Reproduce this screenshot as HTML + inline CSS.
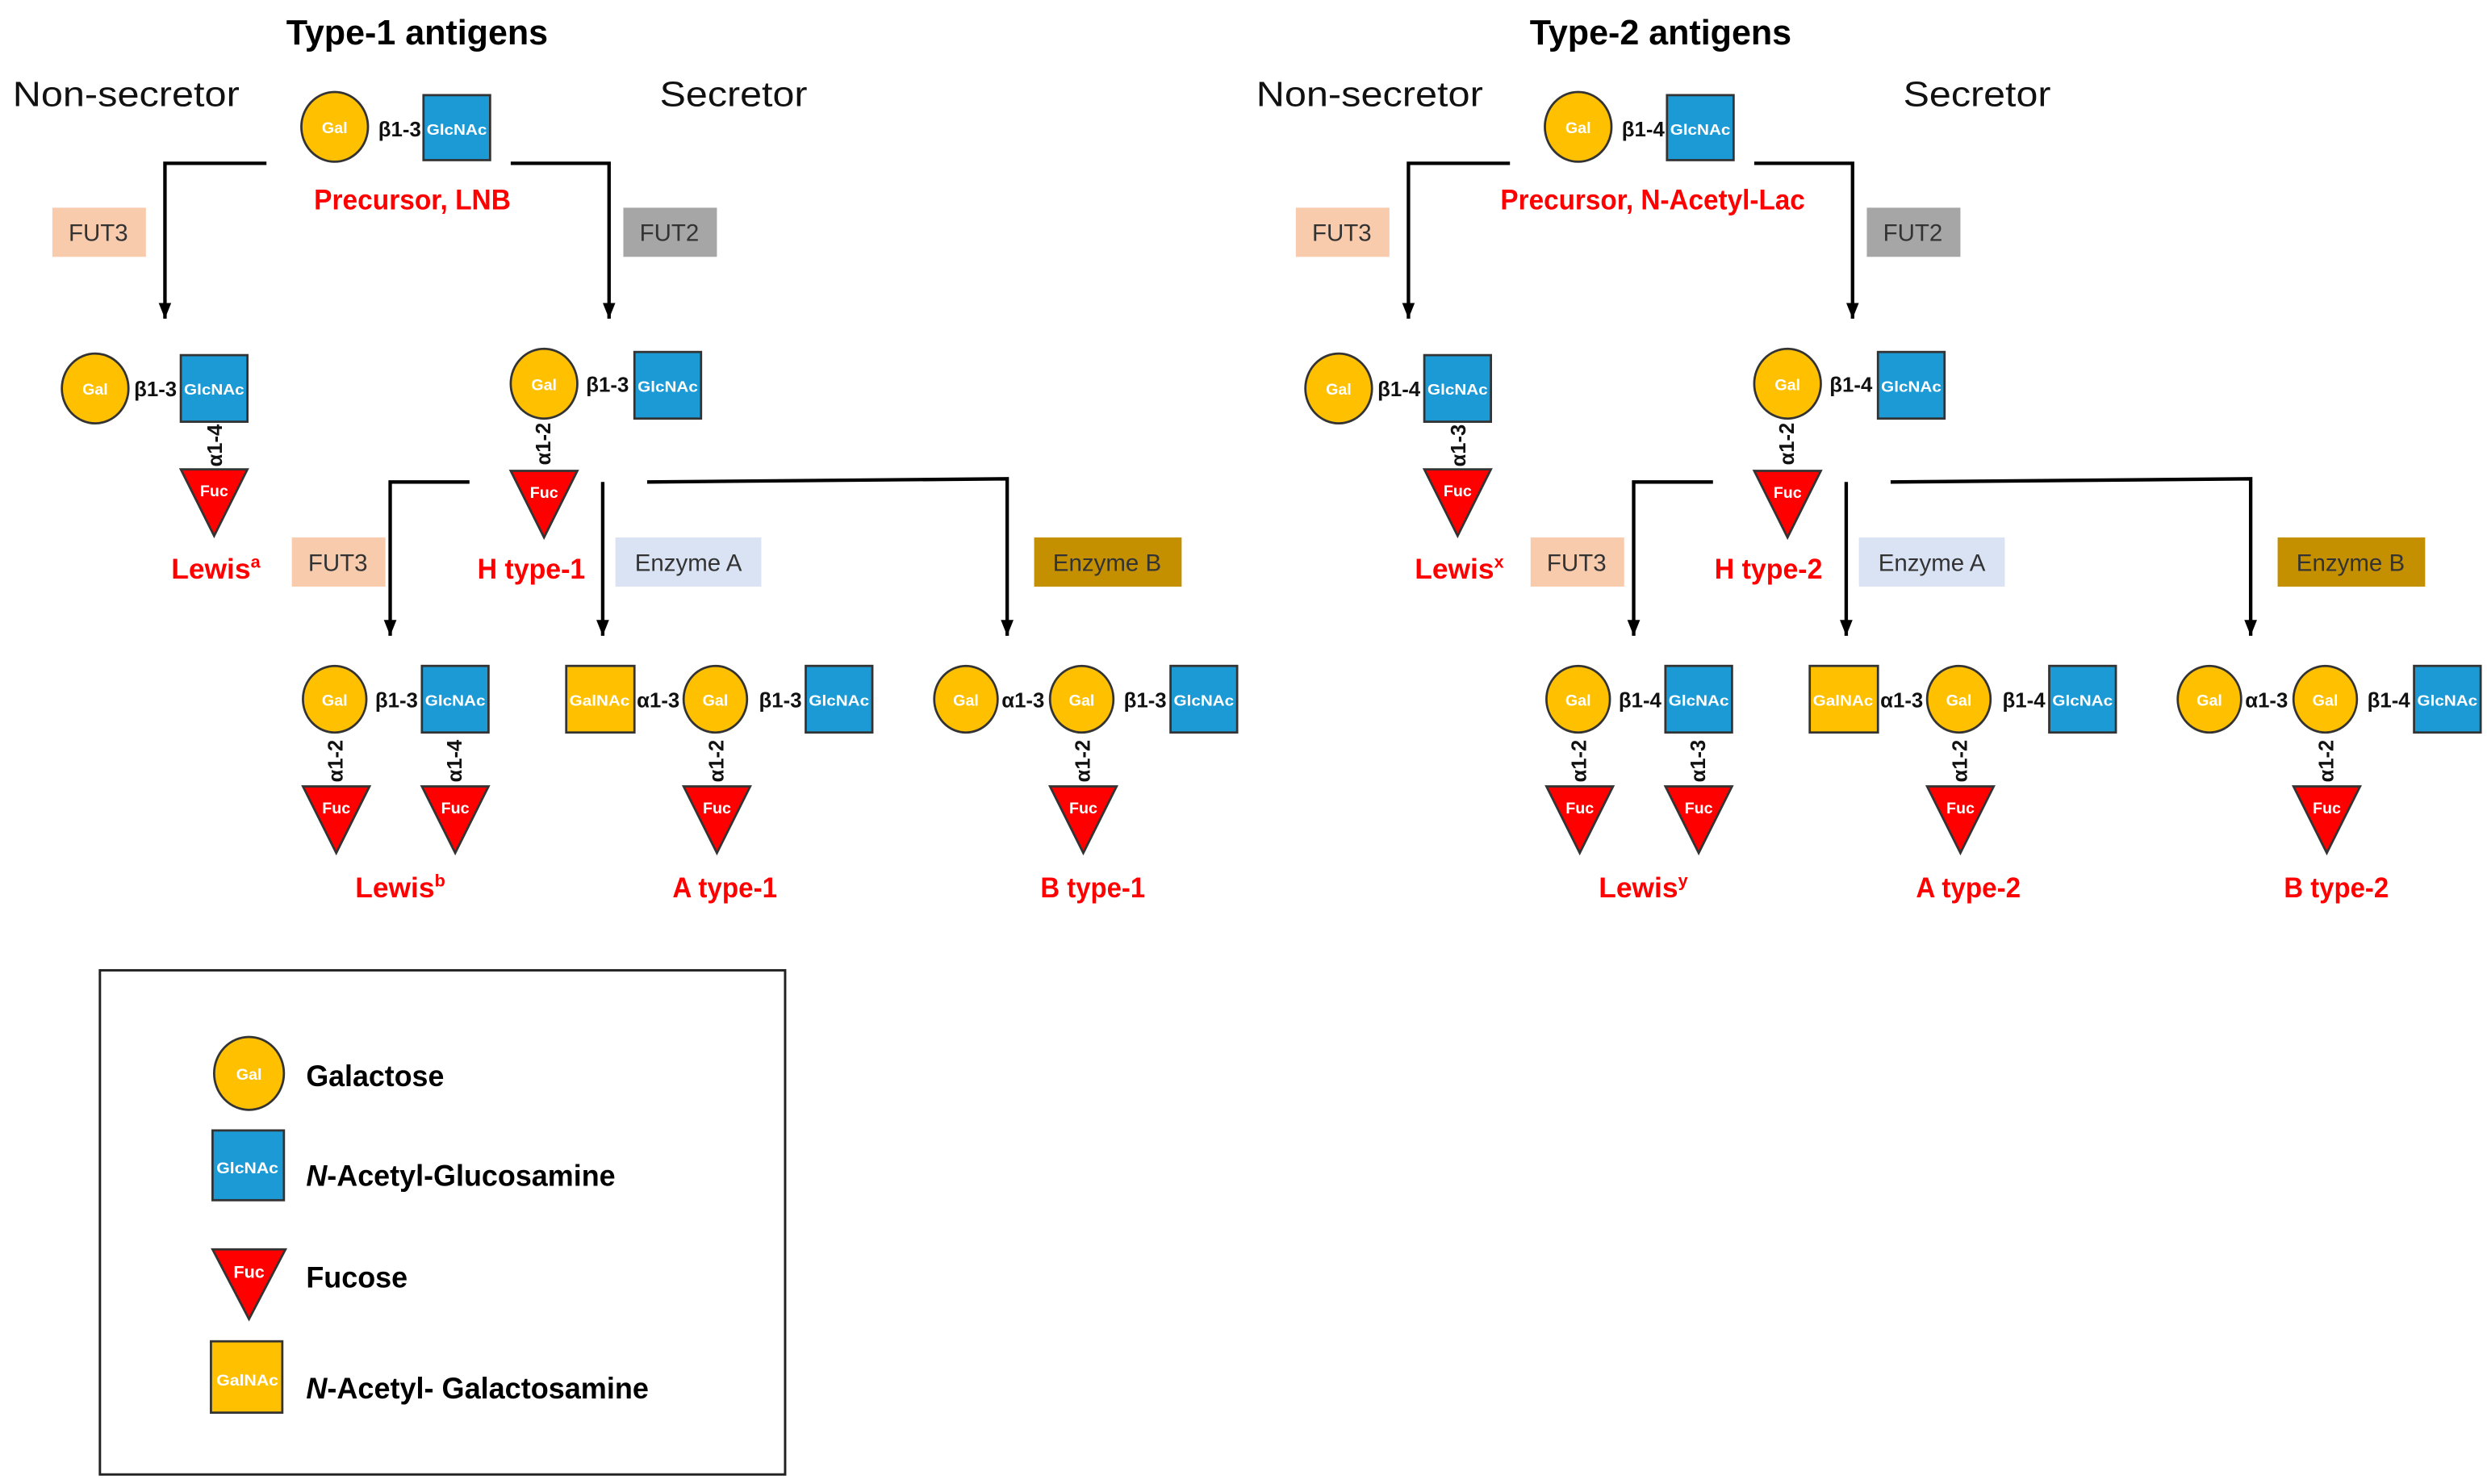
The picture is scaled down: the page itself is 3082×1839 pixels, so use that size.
<!DOCTYPE html>
<html><head><meta charset="utf-8"><style>
html,body{margin:0;padding:0;background:#fff}
svg{display:block}
text{font-family:"Liberation Sans",sans-serif}
.t{font-weight:bold;fill:#000}
.lk{font-size:13px;font-weight:bold;fill:#111;text-anchor:middle}
.w{fill:#fff;font-weight:bold;text-anchor:middle}
.red{fill:#f00;font-weight:bold;font-size:18px}
.box{font-size:15px;fill:#333;text-anchor:middle}
.gal{fill:#ffc000;stroke:#333;stroke-width:1.4}
.glc{fill:#1b9ad6;stroke:#333;stroke-width:1.4}
.fuc{fill:#f00;stroke:#333;stroke-width:1.4}
.ln{fill:none;stroke:#000;stroke-width:2.2}
</style></head><body>
<svg width="3082" height="1839" viewBox="0 0 1568 936" preserveAspectRatio="none" xmlns="http://www.w3.org/2000/svg">
<defs><marker id="ar" markerWidth="11" markerHeight="9" refX="10" refY="4" orient="auto" markerUnits="userSpaceOnUse"><path d="M0,0 L10,4 L0,8 Z" fill="#000"/></marker></defs>

<!-- TYPE 1 -->
<g>
<text x="263" y="28" class="t" font-size="22" text-anchor="middle" textLength="165" lengthAdjust="spacingAndGlyphs">Type-1 antigens</text>
<text x="8" y="67" font-size="22" fill="#111" textLength="143" lengthAdjust="spacingAndGlyphs">Non-secretor</text>
<text x="416" y="67" font-size="22" fill="#111" textLength="93" lengthAdjust="spacingAndGlyphs">Secretor</text>
<ellipse cx="211" cy="80" rx="21" ry="22" class="gal"/><text x="211" y="84" class="w" font-size="10">Gal</text>
<text x="252" y="86" class="lk" textLength="27" lengthAdjust="spacingAndGlyphs">β1-3</text>
<rect x="267" y="60" width="42" height="41" class="glc"/><text x="288" y="85" class="w" font-size="9.5" textLength="38" lengthAdjust="spacingAndGlyphs">GlcNAc</text>
<text x="260" y="132" class="red" text-anchor="middle" textLength="124" lengthAdjust="spacingAndGlyphs">Precursor, LNB</text>
<polyline points="168,103 104,103 104,201" class="ln" marker-end="url(#ar)"/>
<polyline points="322,103 384,103 384,201" class="ln" marker-end="url(#ar)"/>
<rect x="33" y="131" width="59" height="31" fill="#f8cbad"/><text x="62" y="152" class="box">FUT3</text>
<rect x="393" y="131" width="59" height="31" fill="#a6a6a6"/><text x="422" y="152" class="box">FUT2</text>

<ellipse cx="60" cy="245" rx="21" ry="22" class="gal"/><text x="60" y="249" class="w" font-size="10">Gal</text>
<text x="98" y="250" class="lk" textLength="27" lengthAdjust="spacingAndGlyphs">β1-3</text>
<rect x="114" y="224" width="42" height="42" class="glc"/><text x="135" y="249" class="w" font-size="9.5" textLength="38" lengthAdjust="spacingAndGlyphs">GlcNAc</text>
<text transform="translate(140,281) rotate(-90)" class="lk" font-size="12">α1-4</text>
<polygon points="114,296 156,296 135,338" class="fuc"/><text x="135" y="313" class="w" font-size="10">Fuc</text>
<text x="108" y="365" class="red">Lewis<tspan font-size="11" dy="-7">a</tspan></text>

<ellipse cx="343" cy="242" rx="21" ry="22" class="gal"/><text x="343" y="246" class="w" font-size="10">Gal</text>
<text x="383" y="247" class="lk" textLength="27" lengthAdjust="spacingAndGlyphs">β1-3</text>
<rect x="400" y="222" width="42" height="42" class="glc"/><text x="421" y="247" class="w" font-size="9.5" textLength="38" lengthAdjust="spacingAndGlyphs">GlcNAc</text>
<text transform="translate(347,280) rotate(-90)" class="lk" font-size="12">α1-2</text>
<polygon points="322,297 364,297 343,339" class="fuc"/><text x="343" y="314" class="w" font-size="10">Fuc</text>
<text x="335" y="365" class="red" text-anchor="middle" textLength="68" lengthAdjust="spacingAndGlyphs">H type-1</text>

<polyline points="296,304 246,304 246,401" class="ln" marker-end="url(#ar)"/>
<line x1="380" y1="304" x2="380" y2="401" class="ln" marker-end="url(#ar)"/>
<polyline points="408,304 635,302 635,401" class="ln" marker-end="url(#ar)"/>
<rect x="184" y="339" width="59" height="31" fill="#f8cbad"/><text x="213" y="360" class="box">FUT3</text>
<rect x="388" y="339" width="92" height="31" fill="#dae3f3"/><text x="434" y="360" class="box">Enzyme A</text>
<rect x="652" y="339" width="93" height="31" fill="#c49000"/><text x="698" y="360" class="box">Enzyme B</text>

<ellipse cx="211" cy="441" rx="20" ry="21" class="gal"/><text x="211" y="445" class="w" font-size="10">Gal</text>
<text x="250" y="446" class="lk" textLength="27" lengthAdjust="spacingAndGlyphs">β1-3</text>
<rect x="266" y="420" width="42" height="42" class="glc"/><text x="287" y="445" class="w" font-size="9.5" textLength="38" lengthAdjust="spacingAndGlyphs">GlcNAc</text>
<text transform="translate(216,480) rotate(-90)" class="lk" font-size="12">α1-2</text>
<text transform="translate(291,480) rotate(-90)" class="lk" font-size="12">α1-4</text>
<polygon points="191,496 233,496 212,538" class="fuc"/><text x="212" y="513" class="w" font-size="10">Fuc</text>
<polygon points="266,496 308,496 287,538" class="fuc"/><text x="287" y="513" class="w" font-size="10">Fuc</text>
<text x="224" y="566" class="red">Lewis<tspan font-size="11" dy="-7">b</tspan></text>

<rect x="357" y="420" width="43" height="42" class="gal"/><text x="378" y="445" class="w" font-size="9.5" textLength="38" lengthAdjust="spacingAndGlyphs">GalNAc</text>
<text x="415" y="446" class="lk" textLength="27" lengthAdjust="spacingAndGlyphs">α1-3</text>
<ellipse cx="451" cy="441" rx="20" ry="21" class="gal"/><text x="451" y="445" class="w" font-size="10">Gal</text>
<text x="492" y="446" class="lk" textLength="27" lengthAdjust="spacingAndGlyphs">β1-3</text>
<rect x="508" y="420" width="42" height="42" class="glc"/><text x="529" y="445" class="w" font-size="9.5" textLength="38" lengthAdjust="spacingAndGlyphs">GlcNAc</text>
<text transform="translate(456,480) rotate(-90)" class="lk" font-size="12">α1-2</text>
<polygon points="431,496 473,496 452,538" class="fuc"/><text x="452" y="513" class="w" font-size="10">Fuc</text>
<text x="457" y="566" class="red" text-anchor="middle" textLength="66" lengthAdjust="spacingAndGlyphs">A type-1</text>

<ellipse cx="609" cy="441" rx="20" ry="21" class="gal"/><text x="609" y="445" class="w" font-size="10">Gal</text>
<text x="645" y="446" class="lk" textLength="27" lengthAdjust="spacingAndGlyphs">α1-3</text>
<ellipse cx="682" cy="441" rx="20" ry="21" class="gal"/><text x="682" y="445" class="w" font-size="10">Gal</text>
<text x="722" y="446" class="lk" textLength="27" lengthAdjust="spacingAndGlyphs">β1-3</text>
<rect x="738" y="420" width="42" height="42" class="glc"/><text x="759" y="445" class="w" font-size="9.5" textLength="38" lengthAdjust="spacingAndGlyphs">GlcNAc</text>
<text transform="translate(687,480) rotate(-90)" class="lk" font-size="12">α1-2</text>
<polygon points="662,496 704,496 683,538" class="fuc"/><text x="683" y="513" class="w" font-size="10">Fuc</text>
<text x="689" y="566" class="red" text-anchor="middle" textLength="66" lengthAdjust="spacingAndGlyphs">B type-1</text>
</g>

<!-- TYPE 2 -->
<g transform="translate(784,0)">
<text x="263" y="28" class="t" font-size="22" text-anchor="middle" textLength="165" lengthAdjust="spacingAndGlyphs">Type-2 antigens</text>
<text x="8" y="67" font-size="22" fill="#111" textLength="143" lengthAdjust="spacingAndGlyphs">Non-secretor</text>
<text x="416" y="67" font-size="22" fill="#111" textLength="93" lengthAdjust="spacingAndGlyphs">Secretor</text>
<ellipse cx="211" cy="80" rx="21" ry="22" class="gal"/><text x="211" y="84" class="w" font-size="10">Gal</text>
<text x="252" y="86" class="lk" textLength="27" lengthAdjust="spacingAndGlyphs">β1-4</text>
<rect x="267" y="60" width="42" height="41" class="glc"/><text x="288" y="85" class="w" font-size="9.5" textLength="38" lengthAdjust="spacingAndGlyphs">GlcNAc</text>
<text x="258" y="132" class="red" text-anchor="middle" textLength="192" lengthAdjust="spacingAndGlyphs">Precursor, N-Acetyl-Lac</text>
<polyline points="168,103 104,103 104,201" class="ln" marker-end="url(#ar)"/>
<polyline points="322,103 384,103 384,201" class="ln" marker-end="url(#ar)"/>
<rect x="33" y="131" width="59" height="31" fill="#f8cbad"/><text x="62" y="152" class="box">FUT3</text>
<rect x="393" y="131" width="59" height="31" fill="#a6a6a6"/><text x="422" y="152" class="box">FUT2</text>

<ellipse cx="60" cy="245" rx="21" ry="22" class="gal"/><text x="60" y="249" class="w" font-size="10">Gal</text>
<text x="98" y="250" class="lk" textLength="27" lengthAdjust="spacingAndGlyphs">β1-4</text>
<rect x="114" y="224" width="42" height="42" class="glc"/><text x="135" y="249" class="w" font-size="9.5" textLength="38" lengthAdjust="spacingAndGlyphs">GlcNAc</text>
<text transform="translate(140,281) rotate(-90)" class="lk" font-size="12">α1-3</text>
<polygon points="114,296 156,296 135,338" class="fuc"/><text x="135" y="313" class="w" font-size="10">Fuc</text>
<text x="108" y="365" class="red">Lewis<tspan font-size="11" dy="-7">x</tspan></text>

<ellipse cx="343" cy="242" rx="21" ry="22" class="gal"/><text x="343" y="246" class="w" font-size="10">Gal</text>
<text x="383" y="247" class="lk" textLength="27" lengthAdjust="spacingAndGlyphs">β1-4</text>
<rect x="400" y="222" width="42" height="42" class="glc"/><text x="421" y="247" class="w" font-size="9.5" textLength="38" lengthAdjust="spacingAndGlyphs">GlcNAc</text>
<text transform="translate(347,280) rotate(-90)" class="lk" font-size="12">α1-2</text>
<polygon points="322,297 364,297 343,339" class="fuc"/><text x="343" y="314" class="w" font-size="10">Fuc</text>
<text x="331" y="365" class="red" text-anchor="middle" textLength="68" lengthAdjust="spacingAndGlyphs">H type-2</text>

<polyline points="296,304 246,304 246,401" class="ln" marker-end="url(#ar)"/>
<line x1="380" y1="304" x2="380" y2="401" class="ln" marker-end="url(#ar)"/>
<polyline points="408,304 635,302 635,401" class="ln" marker-end="url(#ar)"/>
<rect x="181" y="339" width="59" height="31" fill="#f8cbad"/><text x="210" y="360" class="box">FUT3</text>
<rect x="388" y="339" width="92" height="31" fill="#dae3f3"/><text x="434" y="360" class="box">Enzyme A</text>
<rect x="652" y="339" width="93" height="31" fill="#c49000"/><text x="698" y="360" class="box">Enzyme B</text>

<ellipse cx="211" cy="441" rx="20" ry="21" class="gal"/><text x="211" y="445" class="w" font-size="10">Gal</text>
<text x="250" y="446" class="lk" textLength="27" lengthAdjust="spacingAndGlyphs">β1-4</text>
<rect x="266" y="420" width="42" height="42" class="glc"/><text x="287" y="445" class="w" font-size="9.5" textLength="38" lengthAdjust="spacingAndGlyphs">GlcNAc</text>
<text transform="translate(216,480) rotate(-90)" class="lk" font-size="12">α1-2</text>
<text transform="translate(291,480) rotate(-90)" class="lk" font-size="12">α1-3</text>
<polygon points="191,496 233,496 212,538" class="fuc"/><text x="212" y="513" class="w" font-size="10">Fuc</text>
<polygon points="266,496 308,496 287,538" class="fuc"/><text x="287" y="513" class="w" font-size="10">Fuc</text>
<text x="224" y="566" class="red">Lewis<tspan font-size="11" dy="-7">y</tspan></text>

<rect x="357" y="420" width="43" height="42" class="gal"/><text x="378" y="445" class="w" font-size="9.5" textLength="38" lengthAdjust="spacingAndGlyphs">GalNAc</text>
<text x="415" y="446" class="lk" textLength="27" lengthAdjust="spacingAndGlyphs">α1-3</text>
<ellipse cx="451" cy="441" rx="20" ry="21" class="gal"/><text x="451" y="445" class="w" font-size="10">Gal</text>
<text x="492" y="446" class="lk" textLength="27" lengthAdjust="spacingAndGlyphs">β1-4</text>
<rect x="508" y="420" width="42" height="42" class="glc"/><text x="529" y="445" class="w" font-size="9.5" textLength="38" lengthAdjust="spacingAndGlyphs">GlcNAc</text>
<text transform="translate(456,480) rotate(-90)" class="lk" font-size="12">α1-2</text>
<polygon points="431,496 473,496 452,538" class="fuc"/><text x="452" y="513" class="w" font-size="10">Fuc</text>
<text x="457" y="566" class="red" text-anchor="middle" textLength="66" lengthAdjust="spacingAndGlyphs">A type-2</text>

<ellipse cx="609" cy="441" rx="20" ry="21" class="gal"/><text x="609" y="445" class="w" font-size="10">Gal</text>
<text x="645" y="446" class="lk" textLength="27" lengthAdjust="spacingAndGlyphs">α1-3</text>
<ellipse cx="682" cy="441" rx="20" ry="21" class="gal"/><text x="682" y="445" class="w" font-size="10">Gal</text>
<text x="722" y="446" class="lk" textLength="27" lengthAdjust="spacingAndGlyphs">β1-4</text>
<rect x="738" y="420" width="42" height="42" class="glc"/><text x="759" y="445" class="w" font-size="9.5" textLength="38" lengthAdjust="spacingAndGlyphs">GlcNAc</text>
<text transform="translate(687,480) rotate(-90)" class="lk" font-size="12">α1-2</text>
<polygon points="662,496 704,496 683,538" class="fuc"/><text x="683" y="513" class="w" font-size="10">Fuc</text>
<text x="689" y="566" class="red" text-anchor="middle" textLength="66" lengthAdjust="spacingAndGlyphs">B type-2</text>
</g>

<!-- LEGEND -->
<rect x="63" y="612" width="432" height="318" fill="none" stroke="#222" stroke-width="1.5"/>
<ellipse cx="157" cy="677" rx="22" ry="23" class="gal"/><text x="157" y="681" class="w" font-size="10">Gal</text>
<text x="193" y="685" class="t" font-size="19" textLength="87" lengthAdjust="spacingAndGlyphs">Galactose</text>
<rect x="134" y="713" width="45" height="44" class="glc"/><text x="156" y="740" class="w" font-size="10" textLength="39" lengthAdjust="spacingAndGlyphs">GlcNAc</text>
<text x="193" y="748" class="t" font-size="19" textLength="195" lengthAdjust="spacingAndGlyphs"><tspan font-style="italic">N</tspan>-Acetyl-Glucosamine</text>
<polygon points="134,788 180,788 157,832" class="fuc"/><text x="157" y="806" class="w" font-size="11">Fuc</text>
<text x="193" y="812" class="t" font-size="19" textLength="64" lengthAdjust="spacingAndGlyphs">Fucose</text>
<rect x="133" y="846" width="45" height="45" class="gal"/><text x="156" y="874" class="w" font-size="10" textLength="39" lengthAdjust="spacingAndGlyphs">GalNAc</text>
<text x="193" y="882" class="t" font-size="19" textLength="216" lengthAdjust="spacingAndGlyphs"><tspan font-style="italic">N</tspan>-Acetyl- Galactosamine</text>
</svg>
</body></html>
